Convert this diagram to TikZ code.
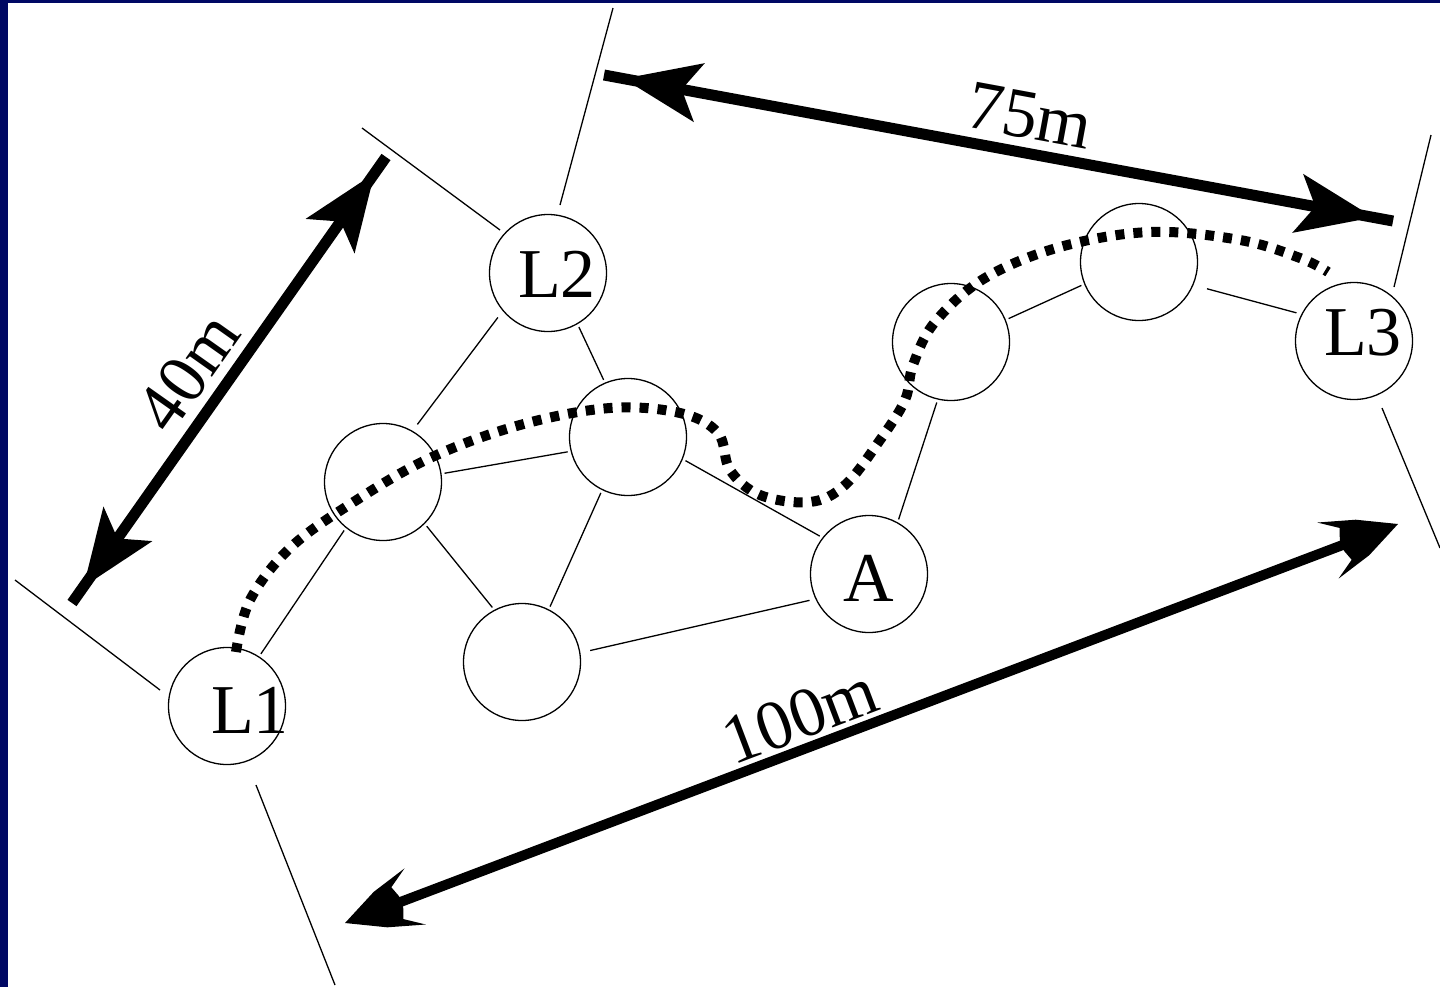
\documentclass[tikz,border=0pt]{standalone}
\usepackage{fontspec}
\setmainfont{Liberation Serif}
\definecolor{framecol}{RGB}{0,8,100}
\begin{document}
\begin{tikzpicture}[x=0.5pt,y=-0.5pt,
  station/.style={circle,draw,line width=0.65pt,minimum size=58.5pt,inner sep=0pt},
  lbl/.style={inner sep=0pt,font=\fontsize{35}{40}\selectfont},
  link/.style={line width=0.65pt,shorten <=1.5pt,shorten >=1.5pt},
  guide/.style={line width=0.65pt},
  shaft/.style={line width=5.5pt},
  route/.style={line width=5pt,dash pattern=on 4.5pt off 4.5pt},
  barbhead/.pic={\fill (-20,0) -- (-97,30) -- (-79,0) -- (-97,-30) -- cycle;},
  zighead/.pic={\fill (0,0) -- (-38,19) -- (-75,30) -- (-56,17) -- (-60,6)
                 -- (-60,-6) -- (-56,-17) -- (-75,-30) -- (-38,-19) -- cycle;},
]
\useasboundingbox (0,0) rectangle (1440,987);
\fill[white] (0,0) rectangle (1440,987);
\fill[framecol] (0,0) rectangle (8,987);
\fill[framecol] (0,0) rectangle (1440,3);

% stations
\node[station] (L1) at (227,706) {};
\node[station] (L2) at (548,273) {};
\node[station] (B)  at (383,482) {};
\node[station] (C)  at (628,437) {};
\node[station] (D)  at (522,662) {};
\node[station] (A)  at (869,574) {};
\node[station] (E)  at (951,342) {};
\node[station] (F)  at (1139,262) {};
\node[station] (L3) at (1354,341) {};

\node[lbl] (tL1) at (250,710) {L1};
\node[lbl] (tL2) at (557,274) {L2};
\node[lbl] (tL3) at (1363,333) {L3};
\node[lbl] (tA)  at (869,578) {A};

% radio links
\draw[link] (L1.57.8) -- (B.231.6);
\draw[link,shorten <=4pt,shorten >=4pt] (L2.220) -- (B.60);
\draw[link] (L2.300) -- (C.113);
\draw[link] (B.8) -- (C.194.5);
\draw[link] (B.315.6) -- (D.118.6);
\draw[link] (C.244.7) -- (D.63.8);
\draw[link] (C.338) -- (A.142.5);
\draw[link,shorten <=5pt,shorten >=3pt] (D.9.2) -- (A.205);
\draw[link] (A.61) -- (E.257);
\draw[link] (E.22.8) -- (F.202);
\draw[link,shorten <=7pt,shorten >=2.5pt] (F.337.6) -- (L3.153.8);

% extension lines
\coordinate (g1a) at (15,580);   \coordinate (g1b) at (160,690);
\coordinate (g2a) at (362,128);  \coordinate (g2b) at (500,230);
\coordinate (g3a) at (560,205);  \coordinate (g3b) at (613,8);
\coordinate (g4a) at (1394,287); \coordinate (g4b) at (1431,135);
\coordinate (g5a) at (1382,408); \coordinate (g5b) at (1440,548);
\coordinate (g6a) at (256,785);  \coordinate (g6b) at (335,985);
\draw[guide] (g1a) -- (g1b);
\draw[guide] (g2a) -- (g2b);
\draw[guide] (g3a) -- (g3b);
\draw[guide] (g4a) -- (g4b);
\draw[guide] (g5a) -- (g5b);
\draw[guide] (g6a) -- (g6b);

% dimension arrows
\coordinate (m40a) at (72,603);   \coordinate (m40b) at (386,157);
\coordinate (m75a) at (604,75);   \coordinate (m75b) at (1393,221);
\coordinate (m100a) at (345,923); \coordinate (m100b) at (1398,524);
\draw[shaft] (m40a) -- (m40b);
\pic[rotate=54.77] at (m40b) {barbhead};
\pic[rotate=234.77] at (m40a) {barbhead};
\draw[shaft] (m75a) -- (m75b);
\pic[rotate=-10.48] at (m75b) {barbhead};
\pic[rotate=169.52] at (m75a) {barbhead};
\draw[line width=5pt,shorten <=15pt,shorten >=15pt] (m100a) -- (m100b);
\pic[rotate=20.75] at (m100b) {zighead};
\pic[rotate=200.75] at (m100a) {zighead};

\node[lbl,rotate=54.77] (t40) at (188,372) {40m};
\node[lbl,rotate=-10.48] (t75) at (1030,116) {75m};
\node[lbl,rotate=20.75] (t100) at (800,716) {100m};

% route from L1 to L3
\draw[route] plot[smooth,tension=0.6] coordinates {
  (236,652) (250,600) (290,548) (352,503) (430,458) (520,425) (610,408)
  (680,413) (718,433) (730,470) (760,495) (810,502) (845,485) (880,440)
  (905,400) (913,365) (935,322) (985,278) (1060,247) (1150,232) (1240,240)
  (1300,258) (1328,272)};
\end{tikzpicture}
\end{document}
